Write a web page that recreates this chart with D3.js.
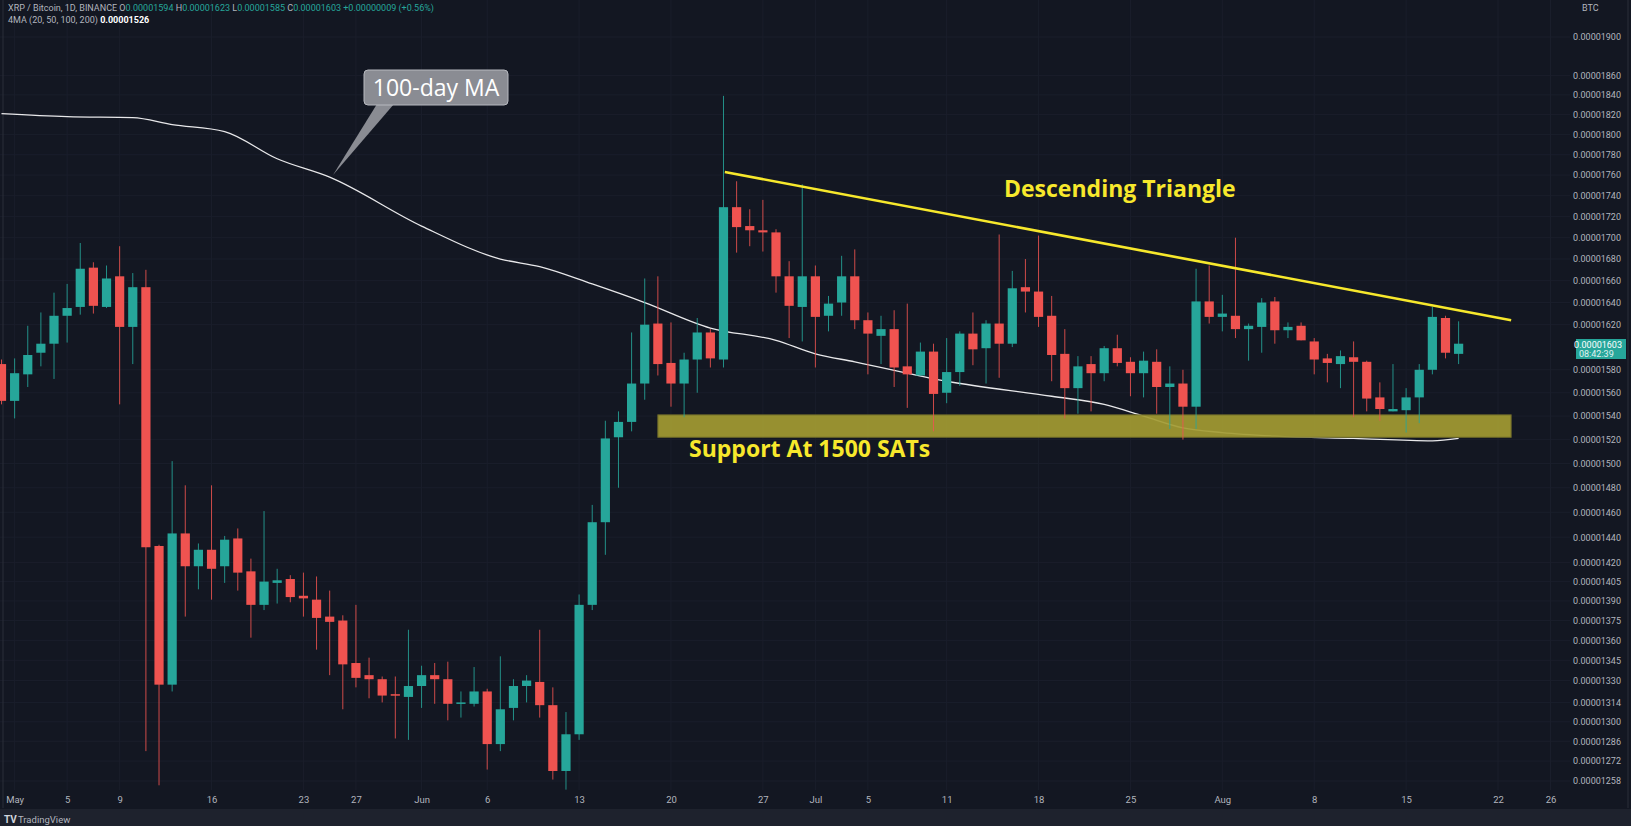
<!DOCTYPE html>
<html><head><meta charset="utf-8">
<script src="https://cdn.jsdelivr.net/npm/d3@7"></script>
<style>body{margin:0;background:#131722;overflow:hidden}svg{display:block}</style>
</head><body><svg id="c" width="1631" height="826"></svg>
<script>
// Candles, values in satoshi (1e-8 BTC); index = days since Apr 30
const opens  = [1585,1553,1576,1595,1603,1628,1636,1672,1636,1664,1618,1654,1433,1327,1443,1417,1430,1417,1439,1413,1387,1404,1407,1394,1391,1378,1375,1343,1334,1331,1320,1318,1326,1334,1331,1313,1313,1322,1284,1310,1326,1329,1312,1265,1291,1387,1452,1522,1535,1568,1621,1586,1568,1589,1613,1589,1729,1711,1707,1705,1664,1636,1664,1628,1640,1664,1624,1610,1616,1583,1575,1596,1560,1578,1612,1599,1621,1603,1654,1650,1628,1594,1564,1585,1577,1599,1587,1577,1587,1565,1568,1548,1641,1627,1628,1616,1618,1641,1615,1619,1605,1590,1585,1591,1587,1556,1544,1545,1556,1580,1626,1594];
const highs  = [1589,1590,1619,1631,1649,1657,1695,1677,1674,1692,1667,1670,1434,1502,1482,1435,1482,1441,1447,1423,1461,1415,1410,1412,1409,1398,1379,1387,1347,1333,1333,1368,1341,1343,1344,1322,1340,1324,1348,1331,1334,1368,1325,1307,1395,1466,1536,1544,1613,1662,1664,1622,1595,1626,1616,1839,1754,1727,1736,1708,1678,1751,1674,1646,1683,1689,1631,1628,1633,1639,1604,1603,1608,1614,1631,1624,1703,1669,1680,1702,1646,1616,1592,1592,1601,1611,1591,1596,1598,1583,1580,1671,1674,1647,1700,1621,1644,1645,1622,1622,1608,1594,1597,1605,1588,1569,1585,1564,1585,1636,1628,1623];
const lows   = [1550,1538,1565,1583,1572,1604,1629,1630,1635,1550,1585,1279,1255,1322,1378,1399,1391,1404,1398,1362,1383,1388,1389,1378,1353,1334,1309,1325,1317,1314,1288,1287,1310,1313,1301,1303,1311,1266,1279,1301,1314,1303,1259,1252,1287,1383,1426,1480,1527,1554,1575,1548,1539,1560,1582,1582,1686,1692,1687,1649,1608,1605,1582,1614,1628,1616,1576,1585,1565,1547,1575,1527,1551,1566,1584,1568,1573,1600,1631,1618,1570,1538,1542,1544,1570,1583,1557,1556,1542,1529,1520,1529,1621,1614,1608,1588,1595,1603,1608,1606,1576,1569,1564,1539,1544,1536,1544,1526,1534,1576,1590,1585];
const closes = [1553,1577,1593,1603,1628,1635,1671,1637,1662,1618,1654,1432,1327,1443,1417,1430,1415,1438,1412,1387,1405,1406,1393,1392,1377,1374,1342,1332,1331,1319,1319,1326,1334,1331,1313,1314,1322,1284,1309,1326,1330,1312,1265,1291,1387,1452,1521,1535,1568,1620,1585,1568,1589,1613,1590,1729,1710,1707,1705,1664,1637,1664,1627,1639,1664,1624,1612,1616,1582,1576,1596,1559,1578,1612,1598,1621,1603,1653,1650,1627,1593,1564,1583,1577,1599,1586,1577,1588,1565,1568,1548,1641,1627,1630,1616,1619,1640,1615,1618,1606,1589,1586,1592,1587,1555,1546,1546,1556,1580,1627,1595,1603];
// 100-day moving average, sampled points [day index, value]
const maIdx = [0,5,10,13,17,21,25,32,38,41,45,49,54,59,62,65,72,80,84,87,90,93,97,103,109,111];
const maVal = [1821,1818,1817,1810,1803,1776,1758,1711,1680,1673,1657,1640,1617,1606,1594,1587,1570,1557,1550,1540,1530,1526,1523,1521,1519,1521];
const yTicks = [1900,1860,1840,1820,1800,1780,1760,1740,1720,1700,1680,1660,1640,1620,1580,1560,1540,1520,1500,1480,1460,1440,1420,1405,1390,1375,1360,1345,1330,1314,1300,1286,1272,1258];
const xTickIdx = [1,5,9,16,23,27,32,37,44,51,58,62,66,72,79,86,93,100,107,114,118];
const xTickLab = ["May","5","9","16","23","27","Jun","6","13","20","27","Jul","5","11","18","25","Aug","8","15","22","26"];
const trend = [[55.1,1763],[115,1624]];
const support = {i0:50,i1:115,top:1541,bot:1522};

const svg = d3.select("#c");
const F = "Roboto, 'Noto Sans', sans-serif";
const x = d3.scaleLinear().domain([0,114]).range([1.5,1498]);
const y = d3.scaleLog().domain([1258,1900]).range([781,37]);
const fmt = v => "0.0000" + String(v);
const PR = 1570;

// grid
const g = svg.append("g");
g.selectAll(".hg").data(yTicks).join("line").attr("x1",0).attr("x2",PR)
 .attr("y1",d=>y(d)).attr("y2",d=>y(d)).attr("stroke","#1a1e2b").attr("stroke-width",1);
g.selectAll(".vg").data(xTickIdx).join("line").attr("y1",0).attr("y2",790)
 .attr("x1",d=>x(d)).attr("x2",d=>x(d)).attr("stroke","#1a1e2b");

// right axis
const ax = svg.append("g").attr("transform","translate("+PR+",0)");
ax.call(d3.axisRight(y).tickValues(yTicks).tickFormat(fmt).tickSize(0).tickPadding(12))
 .call(s=>s.select(".domain").remove())
 .selectAll("text").attr("text-anchor","end").attr("x",1621-PR)
 .attr("fill","#b2b5be").attr("font-size",9).attr("font-family",F);
svg.append("text").attr("x",1582).attr("y",11).text("BTC").attr("fill","#b2b5be").attr("font-size",9).attr("font-family",F);
svg.append("line").attr("x1",1628).attr("x2",1628).attr("y1",0).attr("y2",808).attr("stroke","#2a2e39");
svg.append("line").attr("x1",3).attr("x2",3).attr("y1",0).attr("y2",808).attr("stroke","#2a2e39");

// bottom axis
const bx = svg.append("g").attr("transform","translate(0,790)");
bx.call(d3.axisBottom(x).tickValues(xTickIdx).tickFormat((d,i)=>xTickLab[i]).tickSize(0).tickPadding(6))
 .call(s=>s.select(".domain").remove())
 .selectAll("text").attr("fill","#b2b5be").attr("font-size",9.5).attr("font-family",F);
svg.append("rect").attr("x",0).attr("y",809).attr("width",1631).attr("height",17).attr("fill","#1e222d");
svg.append("text").attr("x",4).attr("y",823).text("TV").attr("fill","#d1d4dc").attr("font-size",10).attr("font-weight","bold").attr("font-family",F);
svg.append("text").attr("x",18).attr("y",823).text("TradingView").attr("fill","#b2b5be").attr("font-size",9.5).attr("font-family",F);

// MA line
const maData = maIdx.map((d,i)=>[d,maVal[i]]);
svg.append("path").datum(maData).attr("fill","none").attr("stroke","#e8e8ea").attr("stroke-width",1.3)
 .attr("d",d3.line().x(d=>x(d[0])).y(d=>y(d[1])).curve(d3.curveMonotoneX));

// support box
svg.append("rect").attr("x",x(support.i0)).attr("width",x(support.i1)-x(support.i0))
 .attr("y",y(support.top)).attr("height",y(support.bot)-y(support.top))
 .attr("fill","#a39b32").attr("fill-opacity",0.92).attr("stroke","#6e6a2a").attr("stroke-width",1);

// candles
const cd = opens.map((o,i)=>({i,o,h:highs[i],l:lows[i],c:closes[i]}));
const col = d=> d.c>=d.o ? "#26a69a" : "#ef5350";
const cg = svg.append("g");
cg.selectAll(".w").data(cd).join("line").attr("x1",d=>x(d.i)).attr("x2",d=>x(d.i))
 .attr("y1",d=>y(d.h)).attr("y2",d=>y(d.l)).attr("stroke",col).attr("stroke-width",1).attr("stroke-opacity",0.85);
cg.selectAll(".b").data(cd).join("rect").attr("x",d=>x(d.i)-4.6).attr("width",9.2)
 .attr("y",d=>y(Math.max(d.o,d.c))).attr("height",d=>Math.max(1.5,Math.abs(y(d.o)-y(d.c))))
 .attr("fill",col);

// trendline
svg.append("line").attr("x1",x(trend[0][0])).attr("y1",y(trend[0][1])).attr("x2",x(trend[1][0])).attr("y2",y(trend[1][1]))
 .attr("stroke","#f7e82c").attr("stroke-width",2.6);
svg.append("text").attr("x",1004).attr("y",197).text("Descending Triangle").attr("fill","#f7e82c")
 .attr("font-size",23).attr("font-weight","bold").attr("font-family","'Open Sans',sans-serif");
svg.append("text").attr("x",689).attr("y",457).text("Support At 1500 SATs").attr("fill","#f7e82c")
 .attr("font-size",23).attr("font-weight","bold").attr("font-family","'Open Sans',sans-serif");

// MA callout
svg.append("path").attr("d","M377,104 L394,104 L333,175 Z").attr("fill","#8a8c93");
svg.append("rect").attr("x",364).attr("y",70).attr("width",144).attr("height",35).attr("rx",4).attr("fill","#8a8c93").attr("stroke","#b7b9bf").attr("stroke-width",1);
svg.append("text").attr("x",436).attr("y",96).attr("text-anchor","middle").text("100-day MA").attr("fill","#fff")
 .attr("font-size",23).attr("font-family","'Open Sans',sans-serif");

// price tag
const last = cd[cd.length-1];
svg.append("rect").attr("x",1576).attr("y",339).attr("width",50).attr("height",20).attr("fill","#26a69a");
svg.append("text").attr("x",1622).attr("y",348).attr("text-anchor","end").text(fmt(last.c)).attr("fill","#fff").attr("font-size",9).attr("font-family",F);
svg.append("text").attr("x",1579).attr("y",357).text("08:42:39").attr("fill","#e0f2f1").attr("font-size",9).attr("font-family",F);

// header
const h1 = svg.append("text").attr("x",8).attr("y",11).attr("font-size",9).attr("font-family",F).attr("fill","#b2b5be");
h1.append("tspan").text("XRP / Bitcoin, 1D, BINANCE  O");
h1.append("tspan").attr("fill","#26a69a").text(fmt(last.o)+" ");
h1.append("tspan").text("H"); h1.append("tspan").attr("fill","#26a69a").text(fmt(last.h)+" ");
h1.append("tspan").text("L"); h1.append("tspan").attr("fill","#26a69a").text(fmt(last.l)+" ");
h1.append("tspan").text("C"); h1.append("tspan").attr("fill","#26a69a").text(fmt(last.c)+"  +0.00000009 (+0.56%)");
const h2 = svg.append("text").attr("x",8).attr("y",23).attr("font-size",9).attr("font-family",F).attr("fill","#b2b5be");
h2.append("tspan").text("4MA (20, 50, 100, 200)  ");
h2.append("tspan").attr("fill","#fff").attr("font-weight","bold").text("0.00001526");
</script></body></html>
